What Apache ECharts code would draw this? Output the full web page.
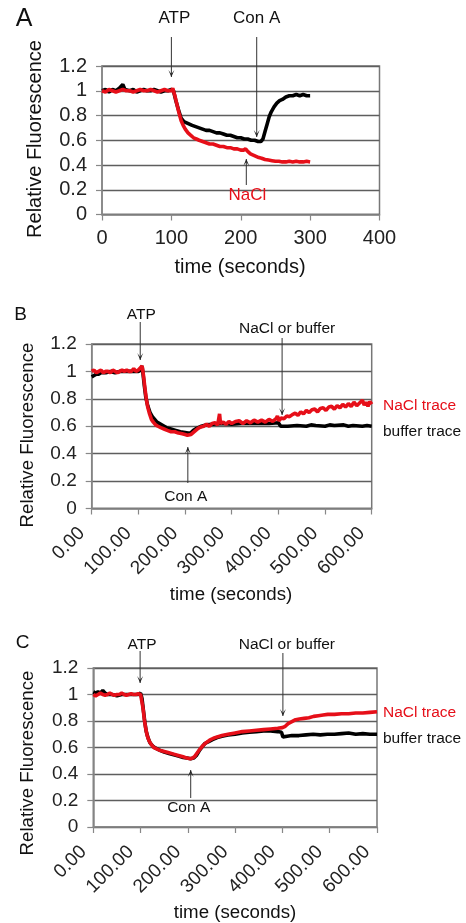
<!DOCTYPE html>
<html><head><meta charset="utf-8">
<script src="https://cdn.jsdelivr.net/npm/echarts@6/dist/echarts.min.js"></script>
<style>html,body{margin:0;padding:0;background:#fff}#c{width:466px;height:923px}</style>
</head><body><div id="c"></div>
<script>
// ---------- data ----------
const yTicks = [0, 0.2, 0.4, 0.6, 0.8, 1, 1.2];
const xTicksA = [0, 100, 200, 300, 400];
const xTicksBC = [0, 100, 200, 300, 400, 500, 600];

// Panel A: [time (s), relative fluorescence]
const aBlack = [[0,1.00],[5,1.01],[10,0.99],[15,1.01],[20,1.00],[25,1.02],[30,1.05],[33,1.01],[40,1.00],[45,1.01],[50,0.99],[55,1.00],[60,1.01],[65,1.00],[70,1.00],[75,1.01],[80,1.00],[85,0.99],[90,1.00],[95,1.00],[100,1.01],[103,1.00],[106,0.93],[110,0.85],[114,0.78],[118,0.75],[122,0.74],[126,0.73],[130,0.72],[135,0.71],[140,0.70],[145,0.69],[150,0.68],[155,0.68],[160,0.67],[165,0.66],[170,0.66],[175,0.65],[180,0.64],[185,0.64],[190,0.63],[195,0.62],[200,0.62],[205,0.61],[210,0.61],[215,0.60],[220,0.60],[225,0.59],[229,0.59],[232,0.61],[235,0.67],[238,0.73],[241,0.79],[244,0.83],[248,0.87],[252,0.90],[256,0.92],[260,0.93],[265,0.95],[270,0.96],[275,0.96],[280,0.97],[285,0.96],[290,0.97],[295,0.96],[300,0.96]];
const aRed = [[0,1.00],[5,0.99],[10,1.01],[15,1.00],[20,0.99],[25,1.00],[30,1.01],[35,1.00],[40,1.00],[45,0.99],[50,1.00],[55,1.01],[60,1.00],[65,1.00],[70,1.01],[75,1.00],[80,0.99],[85,1.00],[90,1.01],[95,1.00],[100,1.00],[102,1.02],[105,0.96],[108,0.89],[111,0.82],[114,0.76],[117,0.72],[120,0.69],[124,0.66],[128,0.64],[132,0.62],[136,0.61],[140,0.60],[145,0.59],[150,0.58],[155,0.57],[160,0.57],[165,0.56],[170,0.55],[175,0.55],[180,0.54],[185,0.54],[190,0.53],[195,0.53],[200,0.52],[204,0.52],[207,0.53],[210,0.51],[214,0.49],[218,0.48],[222,0.47],[226,0.46],[230,0.455],[235,0.445],[240,0.44],[245,0.435],[250,0.43],[255,0.43],[260,0.425],[265,0.425],[270,0.43],[275,0.425],[280,0.43],[285,0.425],[290,0.425],[295,0.43],[300,0.425]];

// Panel B
const bBlack = [[0,0.96],[5,0.97],[10,0.98],[15,0.98],[20,0.99],[30,0.99],[40,1.00],[50,0.99],[60,1.00],[70,1.00],[80,1.00],[90,1.00],[100,1.00],[105,1.01],[108,1.04],[110,0.98],[113,0.89],[116,0.81],[120,0.75],[125,0.70],[130,0.67],[135,0.65],[140,0.63],[150,0.61],[160,0.59],[170,0.58],[180,0.57],[190,0.56],[200,0.555],[206,0.55],[212,0.55],[218,0.57],[225,0.585],[235,0.60],[245,0.61],[260,0.615],[280,0.62],[300,0.615],[320,0.62],[340,0.62],[360,0.62],[380,0.62],[400,0.625],[405,0.60],[420,0.60],[440,0.605],[460,0.60],[470,0.61],[480,0.605],[500,0.60],[510,0.61],[520,0.605],[540,0.61],[550,0.60],[560,0.605],[580,0.60],[590,0.605],[600,0.60]];
const bRed = [[0,1.00],[5,1.01],[10,0.99],[15,1.00],[20,1.01],[25,0.99],[30,1.00],[35,1.00],[40,0.99],[45,1.01],[50,1.00],[55,0.99],[60,1.00],[65,1.01],[70,1.00],[75,1.01],[80,1.00],[85,1.00],[90,1.02],[95,1.00],[100,1.01],[104,1.01],[108,1.04],[111,0.97],[114,0.88],[117,0.80],[120,0.74],[124,0.69],[128,0.65],[132,0.63],[137,0.61],[142,0.60],[148,0.59],[155,0.58],[162,0.57],[170,0.56],[178,0.56],[186,0.55],[194,0.545],[200,0.54],[205,0.535],[209,0.525],[213,0.54],[218,0.555],[223,0.57],[228,0.585],[234,0.595],[240,0.60],[246,0.615],[252,0.60],[258,0.62],[264,0.625],[270,0.61],[274,0.69],[276,0.62],[282,0.63],[288,0.615],[294,0.635],[300,0.62],[308,0.635],[316,0.64],[324,0.62],[332,0.64],[340,0.625],[348,0.645],[356,0.63],[364,0.645],[372,0.63],[380,0.65],[388,0.635],[395,0.655],[398,0.675],[401,0.64],[406,0.66],[412,0.655],[418,0.675],[424,0.67],[430,0.685],[436,0.695],[442,0.68],[448,0.705],[454,0.69],[460,0.715],[466,0.70],[472,0.72],[478,0.725],[484,0.705],[490,0.73],[496,0.735],[502,0.715],[508,0.74],[514,0.745],[520,0.725],[526,0.75],[532,0.735],[538,0.76],[544,0.74],[550,0.765],[556,0.745],[562,0.775],[568,0.75],[574,0.77],[580,0.79],[584,0.755],[588,0.775],[592,0.745],[596,0.78],[600,0.76]];

// Panel C
const cBlack = [[0,1.02],[5,1.01],[10,1.02],[15,1.01],[20,1.03],[25,1.01],[30,1.00],[40,1.00],[50,0.99],[60,1.00],[70,1.00],[80,1.00],[90,1.00],[95,1.00],[100,1.01],[103,0.97],[106,0.88],[109,0.79],[112,0.72],[116,0.67],[120,0.635],[126,0.61],[132,0.595],[140,0.58],[150,0.565],[160,0.555],[170,0.545],[180,0.535],[190,0.525],[198,0.52],[206,0.515],[212,0.52],[218,0.54],[224,0.575],[230,0.605],[236,0.63],[244,0.645],[252,0.66],[262,0.675],[272,0.685],[285,0.695],[300,0.70],[315,0.71],[330,0.715],[345,0.72],[360,0.725],[375,0.725],[390,0.72],[398,0.715],[401,0.68],[404,0.69],[410,0.685],[420,0.69],[435,0.69],[450,0.695],[465,0.70],[480,0.695],[495,0.70],[510,0.70],[525,0.705],[540,0.71],[555,0.70],[570,0.705],[585,0.70],[600,0.70]];
const cRed = [[0,1.00],[5,0.99],[10,1.00],[15,1.01],[20,1.00],[25,0.995],[30,1.00],[35,1.01],[40,1.00],[45,0.995],[50,1.00],[55,1.00],[60,1.01],[65,1.00],[70,0.995],[75,1.00],[80,1.005],[85,1.00],[90,1.00],[95,1.005],[100,1.00],[102,0.99],[105,0.90],[108,0.81],[111,0.74],[114,0.69],[118,0.65],[122,0.625],[128,0.60],[134,0.59],[140,0.58],[150,0.57],[160,0.56],[170,0.55],[180,0.54],[190,0.53],[198,0.52],[205,0.515],[210,0.52],[215,0.535],[220,0.56],[226,0.59],[232,0.615],[238,0.635],[246,0.655],[254,0.67],[262,0.68],[272,0.69],[285,0.70],[300,0.71],[315,0.72],[330,0.725],[345,0.73],[360,0.735],[375,0.74],[390,0.745],[400,0.75],[406,0.76],[412,0.78],[420,0.795],[428,0.81],[436,0.815],[446,0.82],[456,0.825],[466,0.835],[476,0.84],[486,0.845],[496,0.85],[510,0.85],[525,0.855],[540,0.855],[555,0.86],[570,0.86],[585,0.865],[600,0.87]];

// event times (s)
const eventsA = [100, 223, 208];   // ATP, Con A, NaCl
const eventsB = [104, 206, 408];   // ATP, Con A, NaCl or buffer
const eventsC = [99, 206, 401];
const labelsA = ['ATP', 'Con A', 'NaCl'];
const labelsBC = ['ATP', 'Con A', 'NaCl or buffer'];
const traceLabels = ['NaCl trace', 'buffer trace'];
const panelLetters = ['A', 'B', 'C'];
const yTitle = 'Relative Fluorescence';
const xTitle = 'time (seconds)';

// ---------- chart ----------
const FONT = "'Liberation Sans', Arial, sans-serif";
const RED = '#e60f19';
const chart = echarts.init(document.getElementById('c'), null, {renderer: 'canvas'});

const grids = [
  {left: 102, top: 66, width: 277.5, height: 148.5},
  {left: 91.7, top: 344, width: 280, height: 164.5},
  {left: 93.3, top: 668, width: 283.7, height: 159}
];
const fs = [20, 19, 19];

function xAxis(i, ticks, rotated) {
  return {
    type: 'value', gridIndex: i, min: ticks[0], max: ticks[ticks.length - 1],
    interval: ticks[1] - ticks[0],
    axisLine: {show: true, lineStyle: {color: '#888', width: 1.5}},
    axisTick: {show: true, length: 6, lineStyle: {color: '#888', width: 1.2}},
    splitLine: {show: false},
    axisLabel: rotated ? {
      rotate: 45, margin: 12, padding: [0, 14, 0, 0],
      fontFamily: FONT, fontSize: fs[i], color: '#222',
      formatter: v => v.toFixed(2)
    } : {
      margin: 14, fontFamily: FONT, fontSize: fs[i], color: '#222',
      formatter: v => String(v)
    }
  };
}
function yAxis(i) {
  return {
    type: 'value', gridIndex: i, min: yTicks[0], max: yTicks[yTicks.length - 1],
    interval: yTicks[1] - yTicks[0],
    axisLine: {show: true, lineStyle: {color: '#888', width: 1.5}},
    axisTick: {show: true, length: 6, lineStyle: {color: '#888', width: 1.2}},
    splitLine: {show: true, lineStyle: {color: '#5e5e5e', width: 1.3}},
    axisLabel: {margin: 15, fontFamily: FONT, fontSize: fs[i], color: '#222',
      formatter: v => String(+v.toFixed(1))}
  };
}
function line(i, data, color) {
  return {
    type: 'line', xAxisIndex: i, yAxisIndex: i, data: data,
    showSymbol: false, symbol: 'none', smooth: false, animation: false,
    lineStyle: {color: color, width: 3.6}, z: color === RED ? 3 : 2
  };
}

chart.setOption({
  animation: false,
  backgroundColor: '#fff',
  grid: grids.map(g => Object.assign({show: true, borderColor: '#777', borderWidth: 1.5, backgroundColor: 'transparent', containLabel: false}, g)),
  xAxis: [xAxis(0, xTicksA, false), xAxis(1, xTicksBC, true), xAxis(2, xTicksBC, true)],
  yAxis: [yAxis(0), yAxis(1), yAxis(2)],
  series: [
    line(0, aBlack, '#000'), line(0, aRed, RED),
    line(1, bBlack, '#000'), line(1, bRed, RED),
    line(2, cBlack, '#000'), line(2, cRed, RED)
  ]
});

// ---------- annotations ----------
const G = [];
function px(i, t) { return chart.convertToPixel({xAxisIndex: i}, t); }
function text(str, x, y, size, color, opts) {
  G.push(Object.assign({type: 'text', x: x, y: y, z: 10, silent: true,
    style: {text: str, font: size + 'px ' + FONT, fill: color || '#111',
      align: (opts && opts.align) || 'center', verticalAlign: 'middle'}},
    opts && opts.rotation ? {rotation: opts.rotation} : {}));
}
function arrow(x, y1, y2) {
  G.push({type: 'line', z: 10, silent: true, shape: {x1: x, y1: y1, x2: x, y2: y2},
    style: {stroke: '#333', lineWidth: 1}});
  const d = y2 > y1 ? 1 : -1;
  G.push({type: 'polygon', z: 10, silent: true,
    shape: {points: [[x - 3, y2 - 7 * d], [x, y2 - 3 * d], [x + 3, y2 - 7 * d], [x, y2]]},
    style: {fill: '#222'}});
}

// Panel A
text(panelLetters[0], 24, 19, 25, '#111');
let x;
x = px(0, eventsA[0]); arrow(x, 37, 77); text(labelsA[0], x + 3, 18, 17, '#111');
x = px(0, eventsA[1]); arrow(x, 37, 137); text(labelsA[1], x, 18, 17, '#111');
x = px(0, eventsA[2]); arrow(x, 185, 159); text(labelsA[2], x + 1, 195, 17, RED);
text(yTitle, 35, 139, 20, '#111', {rotation: Math.PI / 2});
text(xTitle, 240, 267, 20, '#111');

// Panel B
text(panelLetters[1], 20.5, 315, 19, '#111');
x = px(1, eventsB[0]); arrow(x, 322, 360); text(labelsBC[0], x + 1, 315, 15.5, '#111');
x = px(1, eventsB[1]); arrow(x, 483, 447); text(labelsBC[1], x - 2, 497, 15.5, '#111');
x = px(1, eventsB[2]); arrow(x, 338, 415); text(labelsBC[2], x + 5, 329, 15.5, '#111');
text(traceLabels[0], 383, 406, 15.5, RED, {align: 'left'});
text(traceLabels[1], 383, 432, 15.5, '#111', {align: 'left'});
text(yTitle, 27.5, 435, 18.7, '#111', {rotation: Math.PI / 2});
text(xTitle, 231, 595, 18.7, '#111');

// Panel C
text(panelLetters[2], 22.5, 643, 19, '#111');
x = px(2, eventsC[0]); arrow(x, 651, 683); text(labelsBC[0], x + 2, 645, 15.5, '#111');
x = px(2, eventsC[1]); arrow(x, 798, 770); text(labelsBC[1], x - 2, 808, 15.5, '#111');
x = px(2, eventsC[2]); arrow(x, 653, 716); text(labelsBC[2], x + 4, 645, 15.5, '#111');
text(traceLabels[0], 383, 713, 15.5, RED, {align: 'left'});
text(traceLabels[1], 383, 739, 15.5, '#111', {align: 'left'});
text(yTitle, 27.5, 763, 18.7, '#111', {rotation: Math.PI / 2});
text(xTitle, 235, 913, 18.7, '#111');

chart.setOption({graphic: G});
</script>
</body></html>
